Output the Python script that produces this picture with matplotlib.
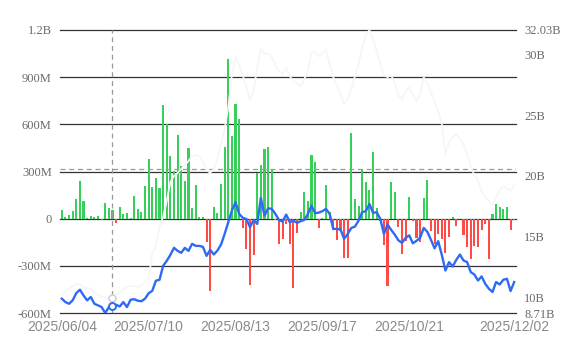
import pandas as pd
import numpy as np
import matplotlib
matplotlib.use('Agg')
import matplotlib.pyplot as plt

# trading days 2025/06/04 - 2025/12/02
holidays = ['2025-06-19', '2025-07-04', '2025-09-01', '2025-11-27']
days = pd.bdate_range('2025-06-04', '2025-12-02', freq='C', holidays=holidays)
date_labels = ['2025/06/04', '2025/07/10', '2025/08/13', '2025/09/17', '2025/10/21', '2025/12/02']

# daily net flow, millions
flow = [55, 10, 23, 49, 123, 239, 110, 3, 19, 10,
        17, -10, 100, 70, 57, -27, 76, 32, 38, 2,
        147, 61, 44, 209, 381, 203, 258, 193, 726, 603,
        400, 303, 533, 332, 239, 451, 66, 216, 8, 13,
        -148, -459, 72, 34, 220, 459, 1018, 523, 728, 637,
        -57, -193, -425, -233, 288, 339, 444, 453, 309, -10,
        -163, -131, -36, -163, -444, -91, 42, 169, 112, 406,
        360, -57, 3, 212, 44, -74, -138, -78, -248, -248,
        546, 127, 78, 307, 231, 182, 421, 66, -15, -169,
        -427, 235, 169, -53, -226, -142, 140, -15, -121, -146,
        133, 248, -78, -163, -95, -131, -217, -114, 10, -44,
        -3, -104, -180, -258, -174, -178, -70, -32, -258, 27,
        95, 76, 59, 76, -74, -6]

# holdings, billions (right axis)
holdings = [9.89, 9.61, 9.47, 9.75, 10.35, 10.63, 10.16, 9.75, 10.03, 9.47,
            9.34, 9.20, 8.71, 9.20, 9.25, 9.39, 9.25, 9.61, 9.20, 9.80,
            9.85, 9.72, 9.68, 9.89, 10.34, 10.54, 11.37, 11.45, 12.60, 13.01,
            13.50, 14.08, 13.83, 13.67, 14.08, 13.83, 14.41, 14.24, 14.24, 14.16,
            13.42, 13.92, 13.53, 13.86, 14.35, 15.23, 16.19, 17.15, 17.84, 16.88,
            16.55, 16.46, 15.78, 16.38, 16.05, 18.19, 16.74, 17.34, 17.29, 16.88,
            16.38, 16.24, 16.82, 16.19, 16.32, 16.14, 16.28, 16.38, 16.88, 17.56,
            16.93, 16.98, 17.10, 17.29, 16.88, 15.64, 15.64, 15.60, 14.82, 15.23,
            15.72, 15.83, 16.32, 17.02, 17.10, 17.70, 16.96, 17.02, 16.46, 15.23,
            16.00, 15.56, 15.17, 14.70, 14.49, 14.90, 15.11, 14.45, 14.66, 14.90,
            15.72, 15.40, 14.74, 14.04, 14.63, 13.50, 12.21, 12.90, 12.54, 13.09,
            13.53, 13.04, 12.90, 12.08, 11.88, 11.39, 11.72, 11.12, 10.71, 10.44,
            11.26, 11.06, 11.45, 11.53, 10.52, 11.26]

# faint background series, billions (right axis)
faint = [10.21, 10.46, 10.71, 10.95, 11.12, 11.04, 10.87, 10.79, 10.71, 10.38,
         10.21, 10.05, 9.97, 9.89, 9.97, 10.21, 10.38, 10.63, 10.87, 10.95,
         10.95, 10.87, 10.95, 11.28, 11.53, 13.67, 14.24, 15.81, 16.63, 17.94,
         19.51, 20.00, 20.25, 20.58, 20.91, 21.23, 21.65, 21.73, 21.65, 21.15,
         20.49, 20.25, 20.58, 21.40, 22.63, 23.87, 25.67, 28.31, 29.79, 29.13,
         28.31, 27.32, 26.25, 26.99, 28.96, 30.53, 30.03, 30.11, 29.79, 29.13,
         28.63, 28.39, 28.96, 28.22, 27.81, 27.65, 27.40, 27.98, 28.63, 30.20,
         30.20, 29.87, 30.11, 30.44, 29.21, 28.14, 27.48, 26.74, 25.92, 26.33,
         27.15, 28.22, 29.21, 30.61, 31.60, 32.03, 31.27, 30.28, 29.21, 28.31,
         28.14, 28.31, 27.65, 26.66, 26.33, 26.99, 27.32, 26.66, 26.17, 26.74,
         28.14, 27.65, 26.91, 26.09, 25.35, 24.28, 21.81, 22.80, 23.21, 23.45,
         23.04, 22.63, 21.81, 20.74, 20.08, 19.59, 18.77, 18.28, 17.94, 17.61,
         18.28, 18.77, 19.18, 18.93, 18.77, 19.26]

left_ticks = [-600, -300, 0, 300, 600, 900, 1200]
left_labels = ['-600M', '-300M', '0', '300M', '600M', '900M', '1.2B']
right_ticks = [8.71, 10, 15, 20, 25, 30, 32.03]
right_labels = ['8.71B', '10B', '15B', '20B', '25B', '30B', '32.03B']

hover = 14

x = np.arange(len(days))
flow = np.array(flow)
colors = np.where(flow >= 0, '#37cf5a', '#ff4a45')

fig = plt.figure(figsize=(5.76, 3.44), dpi=100)
ax = fig.add_axes([60 / 576, 1 - 313 / 344, 456 / 576, 283 / 344])
ax2 = ax.twinx()

for t in left_ticks:
    ax.axhline(t, color='#333333', lw=0.9, zorder=1, clip_on=False)
ax.bar(x, flow, width=0.58, color=colors, zorder=2)
ax.axhline(315, color='#999999', lw=0.9, ls=(0, (4, 3)), zorder=3)
ax.axvline(hover, color='#999999', lw=0.9, ls=(0, (4, 3)), zorder=3)

ax.set_xlim(-0.5, len(days) - 0.5)
ax.set_ylim(-600, 1200)
ax.set_yticks(left_ticks)
ax.set_yticklabels(left_labels, family='Liberation Serif', fontsize=9, color='#6a6a6a')
ax.tick_params(axis='y', length=0, pad=6)

lbl_idx = [i for i, d in enumerate(days) if d.strftime('%Y/%m/%d') in date_labels]
ax.set_xticks(lbl_idx)
ax.set_xticklabels([days[i].strftime('%Y/%m/%d') for i in lbl_idx],
                   family='Liberation Sans', fontsize=10, color='#8a8a8a')
ax.tick_params(axis='x', length=0, pad=5)

ax2.plot(x, faint, color='#f6f6f6', lw=1.3, zorder=4)
ax2.plot(x, holdings, color='#2e6af5', lw=1.7, zorder=5)
ax2.plot(hover, faint[hover], 'o', ms=5, mfc='white', mec='#d2d2d2', mew=1.2, zorder=6)
ax2.plot(hover, holdings[hover], 'o', ms=5, mfc='white', mec='#2e6af5', mew=1.4, zorder=6)
ax2.set_ylim(8.71, 32.03)
ax2.set_yticks(right_ticks)
ax2.set_yticklabels(right_labels, family='Liberation Serif', fontsize=9, color='#6a6a6a')
ax2.tick_params(axis='y', length=0, pad=6)

for a in (ax, ax2):
    for s in a.spines.values():
        s.set_visible(False)
ax.set_zorder(ax2.get_zorder() - 1)
ax2.patch.set_visible(False)

fig.savefig('out.png', dpi=100)
